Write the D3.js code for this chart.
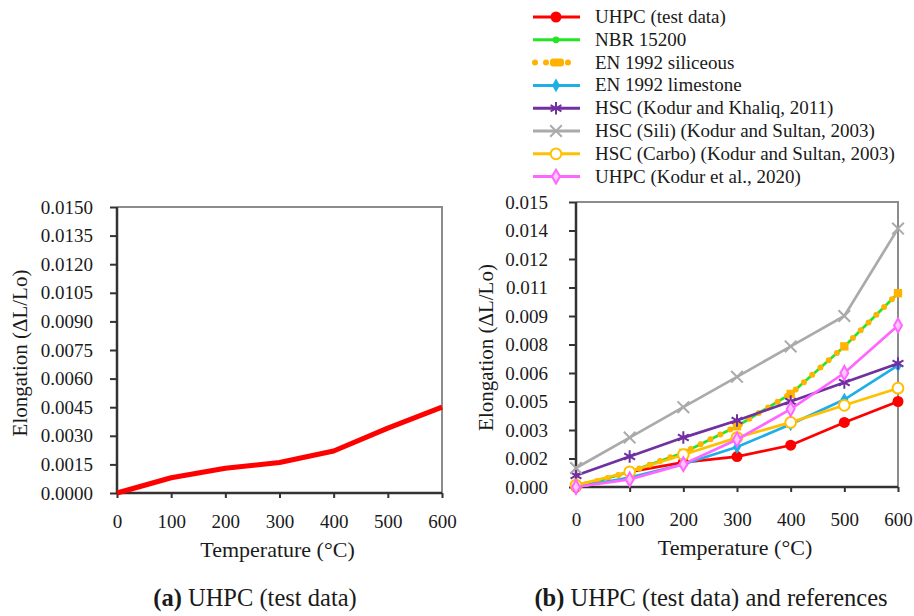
<!DOCTYPE html>
<html>
<head>
<meta charset="utf-8">
<script src="https://cdn.jsdelivr.net/npm/d3@7"></script>
<style>
    body { margin: 0; background: #fff; }
    text { font-family: "Liberation Serif", "Times New Roman", serif; fill: #1a1a1a; }
</style>
</head>
<body>
<div id="chart"></div>
<script>
//temperatures on the x axis
const temps = [0, 100, 200, 300, 400, 500, 600];

//elongation values
const uhpcTest = [0, 0.0008, 0.0013, 0.0016, 0.0022, 0.0034, 0.0045];
const nbr15200 = [0, 0.0008, 0.0018, 0.0032, 0.0049, 0.0074, 0.0102];
const enSiliceous = [0, 0.0008, 0.0018, 0.0032, 0.0049, 0.0074, 0.0102];
const enLimestone = [0, 0.0005, 0.0012, 0.0021, 0.0033, 0.0046, 0.0064];
const hscKhaliq = [0.0006, 0.0016, 0.0026, 0.0035, 0.0045, 0.0055, 0.0065];
const hscSili = [0.001, 0.0026, 0.0042, 0.0058, 0.0074, 0.009, 0.0136];
const hscCarbo = [0.0001, 0.0008, 0.0017, 0.0026, 0.0034, 0.0043, 0.0052];
const uhpcKodur = [0, 0.0004, 0.0012, 0.0025, 0.0041, 0.006, 0.0085];

//tick values and labels
const yTicks = [0, 0.0015, 0.003, 0.0045, 0.006, 0.0075, 0.009, 0.0105, 0.012, 0.0135, 0.015];
const yLabelsA = ["0.0000", "0.0015", "0.0030", "0.0045", "0.0060", "0.0075", "0.0090", "0.0105", "0.0120", "0.0135", "0.0150"];
const yLabelsB = ["0.000", "0.002", "0.003", "0.005", "0.006", "0.008", "0.009", "0.011", "0.012", "0.014", "0.015"];
const xTicks = [0, 100, 200, 300, 400, 500, 600];

const seriesNames = ["UHPC (test data)", "NBR 15200", "EN 1992 siliceous", "EN 1992 limestone",
    "HSC (Kodur and Khaliq, 2011)", "HSC (Sili) (Kodur and Sultan, 2003)",
    "HSC (Carbo) (Kodur and Sultan, 2003)", "UHPC (Kodur et al., 2020)"];

const width = 914;
const height = 616;

const svg = d3.select("#chart")
    .append("svg")
    .attr("width", width)
    .attr("height", height);

//styles for each series of panel b
const series = [
    { name: seriesNames[0], values: uhpcTest, color: "#ff0000", sym: d3.symbolCircle, size: 95, fill: "#ff0000" },
    { name: seriesNames[1], values: nbr15200, color: "#22e622", sym: d3.symbolCircle, size: 35, fill: "#22e622" },
    { name: seriesNames[2], values: enSiliceous, color: "#ffb300", sym: d3.symbolSquare, size: 70, fill: "#ffb300", dotted: true },
    { name: seriesNames[3], values: enLimestone, color: "#1eaee8", sym: d3.symbolDiamond, size: 55, fill: "#1eaee8" },
    { name: seriesNames[4], values: hscKhaliq, color: "#7030a0", sym: d3.symbolAsterisk || d3.symbolCross, size: 110, stroke: true },
    { name: seriesNames[5], values: hscSili, color: "#aaaaaa", sym: d3.symbolTimes || d3.symbolCross, size: 90, stroke: true },
    { name: seriesNames[6], values: hscCarbo, color: "#ffc000", sym: d3.symbolCircle, size: 90, fill: "#fff", open: true },
    { name: seriesNames[7], values: uhpcKodur, color: "#ff66ff", sym: d3.symbolDiamond, size: 55, fill: "#ffc6ff", open: true }
];

//draws the frame, axes and labels of one panel
function drawPanel(box, yLabels, labelPad, xPad, yTitleX, xTitleY, caption, captionX) {
    const xScale = d3.scaleLinear().domain([0, 600]).range([box.left, box.right]);
    const yScale = d3.scaleLinear().domain([0, 0.015]).range([box.bottom, box.top]);

    const yAxis = svg.append("g")
        .attr("transform", `translate(${box.left},0)`)
        .call(d3.axisLeft(yScale).tickValues(yTicks).tickFormat((d, i) => yLabels[i])
            .tickSize(7).tickPadding(labelPad));
    const xAxis = svg.append("g")
        .attr("transform", `translate(0,${box.bottom})`)
        .call(d3.axisBottom(xScale).tickValues(xTicks).tickSize(5).tickPadding(xPad));

    [yAxis, xAxis].forEach(a => {
        a.attr("font-family", null);
        a.select(".domain").remove();
        a.selectAll("line").attr("stroke", "#333").attr("stroke-width", 2);
        a.selectAll("text").style("font-size", "19px").attr("fill", "#1a1a1a");
    });

    //gray top and right border, dark left and bottom
    svg.append("path")
        .attr("d", `M${box.left},${box.top}H${box.right}V${box.bottom}`)
        .attr("fill", "none").attr("stroke", "#8c8c8c").attr("stroke-width", 2);
    svg.append("path")
        .attr("d", `M${box.left},${box.top}V${box.bottom}H${box.right}`)
        .attr("fill", "none").attr("stroke", "#333").attr("stroke-width", 2.5);

    svg.append("text")
        .attr("x", (box.left + box.right) / 2 - 2)
        .attr("y", xTitleY)
        .attr("text-anchor", "middle")
        .style("font-size", "22px")
        .text("Temperature (°C)");

    svg.append("text")
        .attr("transform", `translate(${yTitleX},${(box.top + box.bottom) / 2 + 3}) rotate(-90)`)
        .attr("text-anchor", "middle")
        .style("font-size", "21px")
        .text("Elongation (ΔL/Lo)");

    const cap = svg.append("text")
        .attr("x", captionX)
        .attr("y", 606)
        .attr("text-anchor", "middle")
        .style("font-size", "24.5px");
    cap.append("tspan").style("font-weight", "bold").text(caption[0]);
    cap.append("tspan").text(caption[1]);

    return { xScale, yScale };
}

//panel a: test data only
const boxA = { left: 117, right: 442, top: 207, bottom: 493 };
const a = drawPanel(boxA, yLabelsA, 17, 17, 27, 557, ["(a)", " UHPC (test data)"], 255);

const lineA = d3.line()
    .x((d, i) => a.xScale(temps[i]))
    .y(d => a.yScale(d));

svg.append("path")
    .datum(uhpcTest)
    .attr("d", lineA)
    .attr("fill", "none")
    .attr("stroke", "#ff0000")
    .attr("stroke-width", 5)
    .attr("stroke-linejoin", "round");

//panel b: test data and references
const boxB = { left: 576, right: 898, top: 202, bottom: 487 };
const b = drawPanel(boxB, yLabelsB, 21, 21, 493, 555, ["(b)", " UHPC (test data) and references"], 711);

const lineB = d3.line()
    .x((d, i) => b.xScale(temps[i]))
    .y(d => b.yScale(d));

function styleMarker(sel, s) {
    sel.attr("d", d3.symbol().type(s.sym).size(s.size));
    if (s.stroke) {
        sel.attr("fill", "none").attr("stroke", s.color).attr("stroke-width", 2);
    } else if (s.open) {
        sel.attr("fill", s.fill).attr("stroke", s.color).attr("stroke-width", 2);
    } else {
        sel.attr("fill", s.fill).attr("stroke", "none");
    }
}

series.forEach(s => {
    const g = svg.append("g");
    if (s.dotted) {
        g.append("path")
            .datum(s.values)
            .attr("d", lineB)
            .attr("fill", "none")
            .attr("stroke", s.color)
            .attr("stroke-width", 6)
            .attr("stroke-linecap", "round")
            .attr("stroke-dasharray", "0 11");
    } else {
        g.append("path")
            .datum(s.values)
            .attr("d", lineB)
            .attr("fill", "none")
            .attr("stroke", s.color)
            .attr("stroke-width", 2.7);
    }
    g.selectAll(".marker")
        .data(s.values)
        .enter()
        .append("path")
        .attr("class", "marker")
        .attr("transform", (d, i) => `translate(${b.xScale(temps[i])},${b.yScale(d)})`)
        .call(styleMarker, s);
});

//legend above panel b
const legend = svg.append("g").attr("transform", "translate(533,17)");
const rowH = 22.8;

series.forEach((s, i) => {
    const row = legend.append("g").attr("transform", `translate(0,${i * rowH})`);
    if (s.dotted) {
        row.append("line")
            .attr("x1", 2).attr("x2", 46)
            .attr("stroke", s.color).attr("stroke-width", 6)
            .attr("stroke-linecap", "round").attr("stroke-dasharray", "0 11");
        row.append("rect")
            .attr("x", 17).attr("y", -4).attr("width", 14).attr("height", 8).attr("rx", 3)
            .attr("fill", s.color);
    } else {
        row.append("line")
            .attr("x1", 0).attr("x2", 47)
            .attr("stroke", s.color).attr("stroke-width", 3);
        row.append("path")
            .attr("transform", "translate(23,0)")
            .call(styleMarker, s);
    }
    row.append("text")
        .attr("x", 62)
        .attr("y", 6)
        .style("font-size", "19px")
        .text(s.name);
});
</script>
</body>
</html>
